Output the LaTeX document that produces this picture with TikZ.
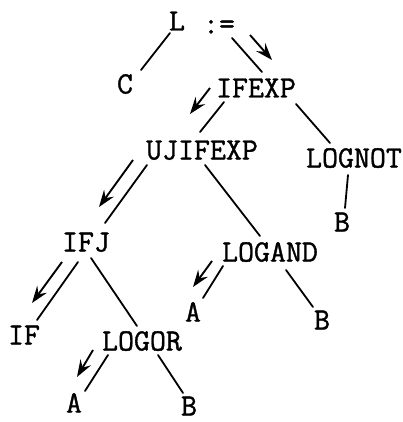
\documentclass[tikz,border=0pt]{standalone}
\usepackage{fontspec}
\newfontfamily\twfont{Latin Modern Mono}[FakeBold=1.2]
\usetikzlibrary{calc,arrows.meta}
\begin{document}
\begin{tikzpicture}[x=1pt,y=-1pt,
  lbl/.style={inner sep=0pt,anchor=center,text height=19pt,text depth=0pt,font=\twfont\fontsize{31}{31}\selectfont},
  edge/.style={line width=1.8pt,line cap=round},
  arr/.style={line width=1.9pt,-{Stealth[length=17pt,width=12pt,inset=6pt]}}]
\useasboundingbox[fill=white] (0,0) rectangle (403,422);
\node[lbl] (L) at (177,21) {L};
\node[lbl] (asg) at (219,24) {:=};
\node[lbl] (C) at (125,84) {C};
\node[lbl] (ifexp) at (256,88) {IFEXP};
\node[lbl] (ujif) at (202,150) {UJIFEXP};
\node[lbl] (lognot) at (354,158) {LOGNOT};
\node[lbl] (b1) at (342,222) {B};
\node[lbl] (ifj) at (86,242) {IFJ};
\node[lbl] (logand) at (270,252) {LOGAND};
\node[lbl] (if) at (24,335) {IF};
\node[lbl] (logor) at (142,341) {LOGOR};
\node[lbl] (a2) at (193,312) {A};
\node[lbl] (b2) at (322,320) {B};
\node[lbl] (a3) at (74,403) {A};
\node[lbl] (b3) at (189,406) {B};
% edges
\draw[edge] ($(L)+(-7,12)$) -- ($(C)+(16,-14)$);
\draw[edge] ($(asg)+(13,14)$) -- ($(ifexp)+(6,-16)$);
\draw[edge] ($(ifexp)+(-32,14)$) -- ($(ujif)+(-2,-18)$);
\draw[edge] ($(ifexp)+(40,16)$) -- ($(lognot)+(-24,-15)$);
\draw[edge] ($(lognot)+(-6,17)$) -- ($(b1)+(3,-14)$);
\draw[edge] ($(ujif)+(-55,15)$) -- ($(ifj)+(19,-19)$);
\draw[edge] ($(ujif)+(3,15)$) -- ($(logand)+(-10,-16)$);
\draw[edge] ($(ifj)+(-8,20)$) -- ($(if)+(13,-15)$);
\draw[edge] ($(ifj)+(5,16)$) -- ($(logor)+(-5,-15)$);
\draw[edge] ($(logor)+(-34,14)$) -- ($(a3)+(11,-12)$);
\draw[edge] ($(logor)+(16,14)$) -- ($(b3)+(-6,-13)$);
\draw[edge] ($(logand)+(-47,14)$) -- ($(a2)+(10,-14)$);
\draw[edge] ($(logand)+(16,18)$) -- ($(b2)+(-9,-13)$);
% traversal arrows
\draw[arr] ($(asg)+(31,11)$) -- ($(ifexp)+(16,-28)$);
\draw[arr] ($(ifexp)+(-46,0)$) -- ($(ujif)+(-12,-36)$);
\draw[arr] ($(ujif)+(-69,10)$) -- ($(ifj)+(13,-35)$);
\draw[arr] ($(ifj)+(-24,20)$) -- ($(if)+(8,-32)$);
\draw[arr] ($(logor)+(-49,9)$) -- ($(a3)+(3,-26)$);
\draw[arr] ($(logand)+(-58,9)$) -- ($(a2)+(0,-25)$);
\end{tikzpicture}
\end{document}
